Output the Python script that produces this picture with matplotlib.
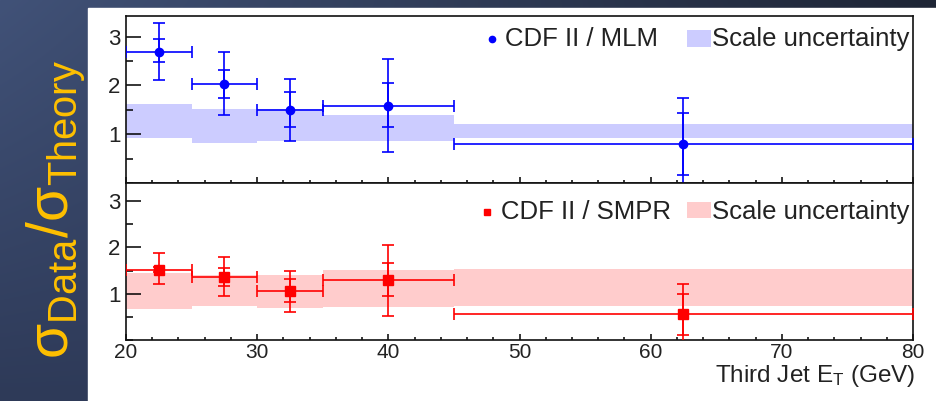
import numpy as np
import matplotlib
matplotlib.use("Agg")
import matplotlib.pyplot as plt
from matplotlib.patches import Rectangle
from matplotlib.ticker import MultipleLocator
from matplotlib.lines import Line2D

# ---------------- data ----------------
bin_edges = [20, 25, 30, 35, 45, 80]
x_centers = [22.5, 27.5, 32.5, 40, 62.5]

mlm_y = [2.69, 2.03, 1.50, 1.57, 0.80]
mlm_stat_hi = [2.95, 2.31, 1.87, 2.04, 1.44]
mlm_stat_lo = [2.48, 1.74, 1.14, 1.14, 0.16]
mlm_tot_hi = [3.27, 2.68, 2.13, 2.53, 1.74]
mlm_tot_lo = [2.11, 1.40, 0.87, 0.63, -0.14]
mlm_band_hi = [1.61, 1.52, 1.52, 1.39, 1.21]
mlm_band_lo = [0.92, 0.82, 0.85, 0.85, 0.92]

smpr_y = [1.52, 1.36, 1.06, 1.30, 0.56]
smpr_stat_hi = [1.58, 1.56, 1.32, 1.67, 1.00]
smpr_stat_lo = [1.46, 1.17, 0.83, 0.94, 0.11]
smpr_tot_hi = [1.88, 1.80, 1.49, 2.05, 1.21]
smpr_tot_lo = [1.21, 0.96, 0.61, 0.51, -0.09]
smpr_band_hi = [1.45, 1.41, 1.41, 1.52, 1.54]
smpr_band_lo = [0.68, 0.73, 0.70, 0.71, 0.73]

x_ticks = [20, 30, 40, 50, 60, 70, 80]
y_ticks = [1, 2, 3]

# ---------------- figure ----------------
W, H = 936, 401
fig = plt.figure(figsize=(W / 100, H / 100), dpi=100)

# slide background gradient
bg = fig.add_axes([0, 0, 1, 1], zorder=-10)
yy, xx = np.mgrid[0:1:200j, 0:1:400j]
c_tl = np.array([0x41, 0x52, 0x78]) / 255
c_bl = np.array([0x2e, 0x3a, 0x58]) / 255
c_tr = np.array([0x1e, 0x25, 0x35]) / 255
img = (c_tl[None, None, :] * (1 - yy[..., None]) * (1 - xx[..., None])
       + c_bl[None, None, :] * yy[..., None]
       + c_tr[None, None, :] * (1 - yy[..., None]) * xx[..., None])
bg.imshow(img, aspect="auto", extent=[0, 1, 0, 1], origin="upper")
bg.set_xlim(0, 1); bg.set_ylim(0, 1)
bg.axis("off")
# white panel
bg.add_patch(Rectangle((88 / W, 0), 1 - 88 / W, 1 - 8 / H, color="white",
                       transform=bg.transAxes, zorder=2))

plt.rcParams["font.family"] = ["Liberation Sans", "DejaVu Sans"]
plt.rcParams["mathtext.fontset"] = "custom"
plt.rcParams["mathtext.rm"] = "Liberation Sans"
plt.rcParams["mathtext.it"] = "Liberation Sans:italic"

left = 126 / W
width = (913 - 126) / W
ax1 = fig.add_axes([left, 1 - 183 / H, width, (183 - 16) / H])
ax2 = fig.add_axes([left, 1 - 340 / H, width, (340 - 183) / H])

blue = "#0000ff"
red = "#ff0000"
band_blue = "#ccccff"
band_red = "#ffcccc"
txt_col = "#222222"

def panel(ax, y, shi, slo, thi, tlo, bhi, blo, col, bcol, marker, ms, ylim):
    edges = np.array(bin_edges, dtype=float)
    widths = np.diff(edges)
    bhi = np.array(bhi); blo = np.array(blo)
    ax.bar(edges[:-1], bhi - blo, bottom=blo, width=widths, align="edge",
           color=bcol, linewidth=0, zorder=1)
    xc = np.array(x_centers); y = np.array(y)
    xerr = [xc - edges[:-1], edges[1:] - xc]
    tot = [y - np.array(tlo), np.array(thi) - y]
    stat = [y - np.array(slo), np.array(shi) - y]
    ax.errorbar(xc, y, xerr=xerr, yerr=tot, fmt="none", ecolor=col,
                elinewidth=1.2, capsize=4.5, capthick=1.2, zorder=3)
    ax.errorbar(xc, y, yerr=stat, fmt="none", ecolor=col,
                elinewidth=1.2, capsize=4.5, capthick=1.2, zorder=3)
    ax.plot(xc, y, linestyle="none", marker=marker, color=col, ms=ms, zorder=4)
    ax.set_xlim(bin_edges[0], bin_edges[-1])
    ax.set_ylim(*ylim)
    ax.set_yticks(y_ticks)
    ax.yaxis.set_minor_locator(MultipleLocator(0.5))
    ax.set_xticks(x_ticks)
    ax.xaxis.set_minor_locator(MultipleLocator(2))
    ax.tick_params(axis="y", which="major", direction="in", length=11, width=1.1,
                   labelsize=16, pad=4, colors="black", labelcolor=txt_col)
    ax.tick_params(axis="y", which="minor", direction="in", length=5, width=1.1)
    ax.tick_params(axis="x", which="major", direction="in", length=4, width=1.1,
                   labelsize=15, pad=2, labelcolor=txt_col)
    ax.tick_params(axis="x", which="minor", direction="in", length=2, width=1.1)
    for s in ax.spines.values():
        s.set_linewidth(1.2)
        s.set_color("#111111")

panel(ax1, mlm_y, mlm_stat_hi, mlm_stat_lo, mlm_tot_hi, mlm_tot_lo,
      mlm_band_hi, mlm_band_lo, blue, band_blue, "o", 6, (0, 3.42))
panel(ax2, smpr_y, smpr_stat_hi, smpr_stat_lo, smpr_tot_hi, smpr_tot_lo,
      smpr_band_hi, smpr_band_lo, red, band_red, "s", 6.5, (0, 3.39))
ax1.tick_params(axis="x", labelbottom=False)

# legends (manual)
def legend(ax, yc, ry0, ry1, mx, marker, col, label, bcol, mss):
    ax.add_line(Line2D([mx], [yc], marker=marker, color=col, ms=mss,
                       linestyle="none", transform=ax.transAxes, clip_on=False))
    ax.text(mx + 0.017, yc, label, transform=ax.transAxes, fontsize=18.5,
            va="center", ha="left", color=txt_col)
    ax.add_patch(Rectangle((0.713, ry0), 0.030, ry1 - ry0, color=bcol,
                           transform=ax.transAxes, lw=0))
    ax.text(0.745, yc, "Scale uncertainty", transform=ax.transAxes,
            fontsize=18.5, va="center", ha="left", color=txt_col)

legend(ax1, 0.862, 0.814, 0.916, 0.465, "o", blue, "CDF II / MLM", band_blue, 4.5)
legend(ax2, 0.815, 0.777, 0.879, 0.459, "s", red, "CDF II / SMPR", band_red, 5)

fig.text(915 / W, 1 - 382 / H, r"Third Jet E$_{\mathrm{T}}$ (GeV)", ha="right",
         va="baseline", fontsize=17.5, color=txt_col)

# y label on the slide
fig.text(56 / W, 1 - 209 / H,
         r"$\mathrm{σ}_{\mathrm{Data}}/\mathrm{σ}_{\mathrm{Theory}}$",
         rotation=90, ha="center", va="center", fontsize=41, color="#ffc000")

fig.savefig("out.png", dpi=100)
